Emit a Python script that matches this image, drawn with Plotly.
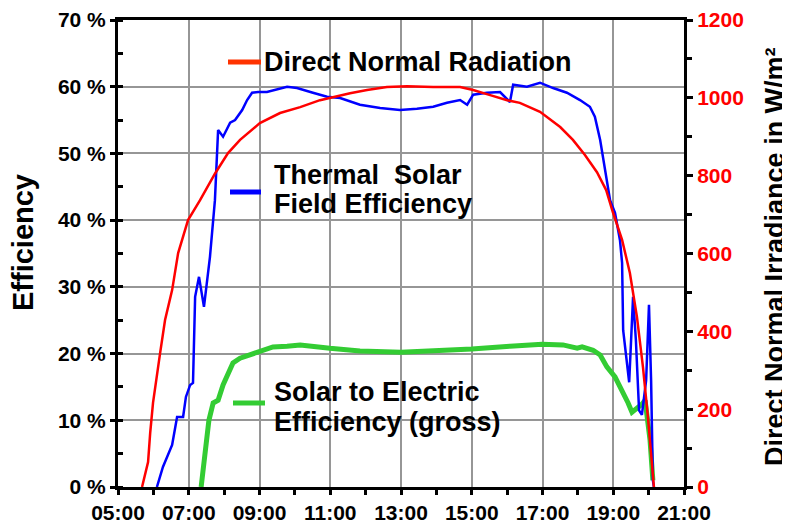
import plotly.graph_objects as go

# ---------------- data ----------------
# time axis in decimal hours
x_tick_vals = [5, 7, 9, 11, 13, 15, 17, 19, 21]
x_tick_text = ["05:00", "07:00", "09:00", "11:00", "13:00", "15:00", "17:00", "19:00", "21:00"]

# Direct Normal Radiation (W/m², right axis)
dni_time = [5.68, 5.85, 5.91, 5.99, 6.19, 6.33, 6.53, 6.70, 6.98, 7.32,
            7.74, 8.11, 8.45, 9.01, 9.58, 10.15, 10.71, 11.08, 11.56, 12.04,
            12.60, 13.17, 13.91, 14.67, 15.04, 15.52, 16.00, 16.36, 16.93, 17.50,
            17.86, 18.20, 18.54, 18.80, 18.99, 19.25, 19.47, 19.67, 19.84, 19.98,
            20.12, 20.15]
dni = [0, 64, 139, 216, 344, 429, 506, 601, 686, 737,
       805, 858, 892, 935, 961, 976, 994, 1002, 1012, 1020,
       1028, 1030, 1028, 1028, 1020, 1007, 994, 987, 964, 925,
       892, 853, 809, 763, 706, 635, 550, 437, 308, 180,
       18, 0]

# Thermal Solar Field Efficiency (%, left axis)
tsf_time = [6.10, 6.27, 6.53, 6.67, 6.84, 6.92, 7.04, 7.12, 7.18, 7.29,
            7.43, 7.60, 7.74, 7.83, 7.97, 8.17, 8.31, 8.51, 8.65, 8.79,
            8.96, 9.21, 9.78, 10.06, 10.51, 10.91, 11.28, 11.84, 12.41, 12.97,
            13.45, 13.91, 14.30, 14.67, 14.87, 15.04, 15.43, 15.80, 16.08, 16.17,
            16.56, 16.93, 17.30, 17.69, 18.06, 18.34, 18.48, 18.63, 18.91, 19.05,
            19.19, 19.25, 19.28, 19.36, 19.45, 19.56, 19.64, 19.73, 19.81, 19.93,
            20.01, 20.07, 20.12, 20.15]
tsf = [0.0, 3.0, 6.3, 10.5, 10.5, 13.5, 15.3, 15.6, 28.5, 31.5,
       27.0, 34.5, 43.0, 53.5, 52.5, 54.6, 55.0, 56.5, 58.0, 59.1,
       59.2, 59.2, 60.0, 59.8, 59.1, 58.5, 58.3, 57.3, 56.8, 56.5,
       56.7, 57.0, 57.6, 58.0, 57.3, 58.8, 59.1, 59.2, 57.7, 60.3,
       60.0, 60.6, 59.8, 59.1, 58.0, 57.0, 55.5, 52.0, 43.0, 41.1,
       37.0, 33.6, 23.5, 19.8, 15.7, 28.5, 22.0, 11.5, 10.8, 16.0,
       27.3, 16.0, 1.0, 0.0]

# Solar to Electric Efficiency (gross) (%, left axis)
see_time = [7.35, 7.46, 7.57, 7.69, 7.83, 7.97, 8.11, 8.25, 8.45, 8.73,
            9.01, 9.38, 9.78, 10.15, 10.99, 11.84, 13.00, 14.10, 15.00, 16.08,
            16.99, 17.58, 17.98, 18.12, 18.43, 18.63, 18.82, 19.05, 19.25, 19.42,
            19.53, 19.70, 19.81, 19.90, 20.04, 20.12]
see = [0.0, 5.1, 10.0, 12.6, 13.0, 15.3, 16.8, 18.6, 19.3, 19.8,
       20.2, 21.0, 21.1, 21.3, 20.8, 20.4, 20.2, 20.4, 20.7, 21.1,
       21.4, 21.3, 20.8, 21.0, 20.5, 19.8, 18.0, 16.5, 14.5, 12.6,
       11.2, 11.8, 12.4, 13.0, 7.0, 1.0]

FONT = "Liberation Sans, Arial, Helvetica, sans-serif"
GRID = "#969696"

fig = go.Figure()
fig.add_trace(go.Scatter(x=see_time, y=see, mode="lines",
                         line=dict(color="#33CC33", width=5), yaxis="y"))
fig.add_trace(go.Scatter(x=tsf_time, y=tsf, mode="lines",
                         line=dict(color="#0000FF", width=2.5), yaxis="y"))
fig.add_trace(go.Scatter(x=dni_time, y=dni, mode="lines",
                         line=dict(color="#FF0000", width=2.5), yaxis="y2"))

tick_font = dict(family=FONT, size=21, color="black", weight="bold")

# the page body adds an 8px offset, so the figure is 8px smaller on each side
fig.update_layout(
    width=782, height=515,
    margin=dict(l=110, r=106, t=12, b=36),
    paper_bgcolor="white", plot_bgcolor="white",
    showlegend=False,
    font=dict(family=FONT, color="black"),
    xaxis=dict(
        range=[5, 21], tickmode="array", tickvals=x_tick_vals, ticktext=x_tick_text,
        automargin=False,
        showgrid=True, gridcolor=GRID, gridwidth=2, zeroline=False,
        showline=True, linecolor="black", linewidth=3, mirror=True,
        ticks="outside", ticklen=5, tickwidth=3, tickcolor="black",
        tickfont=tick_font,
        minor=dict(tickmode="linear", tick0=5, dtick=1, ticks="outside",
                   ticklen=5, tickwidth=3, tickcolor="black", showgrid=False),
    ),
    yaxis=dict(
        range=[0, 70], tickmode="linear", tick0=0, dtick=10, ticksuffix=" %",
        automargin=False,
        showgrid=True, gridcolor=GRID, gridwidth=2, zeroline=False,
        showline=True, linecolor="black", linewidth=3,
        ticks="outside", ticklen=5, tickwidth=3, tickcolor="black",
        tickfont=tick_font,
        minor=dict(tickmode="linear", tick0=0, dtick=5, ticks="inside",
                   ticklen=5, tickwidth=3, tickcolor="black", showgrid=False),
    ),
    yaxis2=dict(
        overlaying="y", side="right", range=[0, 1200],
        tickmode="linear", tick0=0, dtick=200,
        automargin=False,
        showgrid=False, zeroline=False,
        showline=True, linecolor="black", linewidth=3,
        ticks="outside", ticklen=6, tickwidth=3, tickcolor="black",
        tickfont=dict(family=FONT, size=21, color="#FF0000", weight="bold"),
        minor=dict(tickmode="linear", tick0=0, dtick=100, ticks="outside",
                   ticklen=5, tickwidth=3, tickcolor="black", showgrid=False),
    ),
)

title_font = dict(family=FONT, size=29, color="black", weight="bold")
title2_font = dict(family=FONT, size=27, color="black", weight="bold")
leg_font = dict(family=FONT, size=27, color="black", weight="bold")

# screen pixel -> paper fraction (plot area spans x 118..684, y 20..487 on screen)
def px_x(p):
    return (p - 118) / 566.0

def px_y(p):
    return (487 - p) / 467.0

annotations = [
    dict(text="Efficiency", x=px_x(23), y=px_y(243), textangle=-90, font=title_font),
    dict(text="Direct Normal Irradiance in W/m²", x=px_x(775), y=px_y(257),
         textangle=-90, font=title2_font),
    dict(text="Direct Normal Radiation", x=px_x(262), y=px_y(62), xanchor="left", font=leg_font),
    dict(text="Thermal\u00a0 Solar", x=px_x(272), y=px_y(175), xanchor="left", font=leg_font),
    dict(text="Field Efficiency", x=px_x(272), y=px_y(204), xanchor="left", font=leg_font),
    dict(text="Solar to Electric", x=px_x(272), y=px_y(392), xanchor="left", font=leg_font),
    dict(text="Efficiency (gross)", x=px_x(272), y=px_y(422), xanchor="left", font=leg_font),
]
for a in annotations:
    a.setdefault("xanchor", "center")
    fig.add_annotation(xref="paper", yref="paper", showarrow=False, yanchor="middle", **a)

swatches = [("#FF3300", 228, 261, 62), ("#0000FF", 230, 261, 192), ("#33CC33", 233, 265, 403)]
for col, x0, x1, yy in swatches:
    fig.add_shape(type="line", xref="paper", yref="paper",
                  x0=px_x(x0), x1=px_x(x1), y0=px_y(yy), y1=px_y(yy),
                  line=dict(color=col, width=5))

fig.write_html("out.html")
